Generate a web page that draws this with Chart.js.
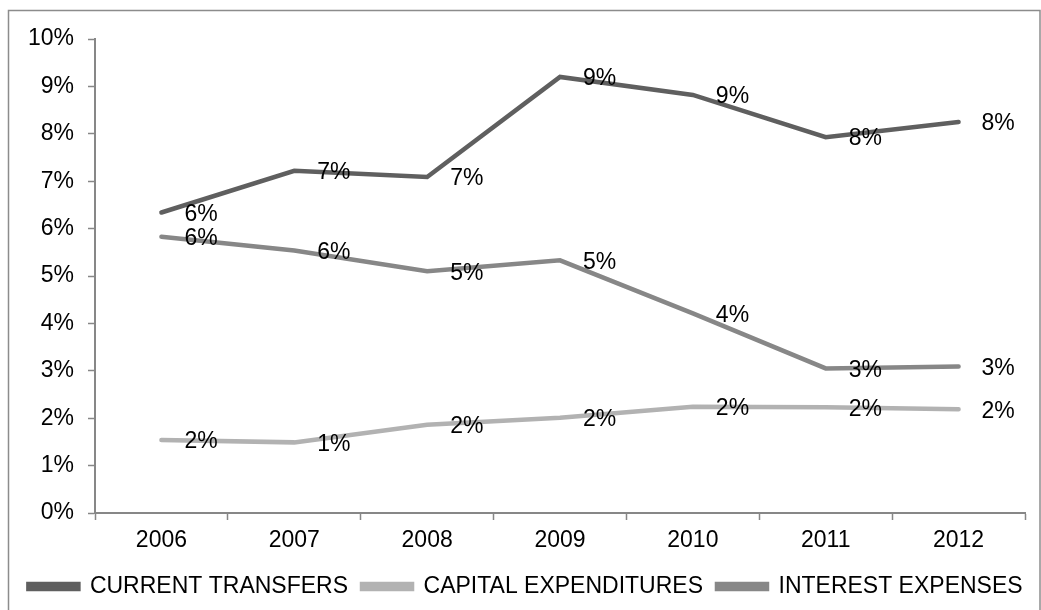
<!DOCTYPE html>
<html>
<head>
<meta charset="utf-8">
<script src="https://cdn.jsdelivr.net/npm/chart.js@4/dist/chart.umd.min.js"></script>
<style>
  html, body { margin: 0; padding: 0; background: #fff; }
  canvas { display: block; }
</style>
</head>
<body>
<canvas id="spendingChart" width="1041" height="610"></canvas>
<script>
// Share of spending by item, per year (percent)
const years = ['2006', '2007', '2008', '2009', '2010', '2011', '2012'];
const currentTransfers = [6.34, 7.22, 7.09, 9.20, 8.82, 7.93, 8.25];
const capitalExpenditures = [1.54, 1.49, 1.86, 2.01, 2.24, 2.23, 2.19];
const interestExpenses = [5.83, 5.54, 5.10, 5.33, 4.21, 3.05, 3.09];
const yTicks = [0, 1, 2, 3, 4, 5, 6, 7, 8, 9, 10];

const FONT = "'Liberation Sans', Arial, sans-serif";
const AXIS_GREY = '#878787';

// White background plus the thin frame around the chart
const framePlugin = {
    id: 'frame',
    beforeDraw(chart) {
        const ctx = chart.ctx;
        ctx.save();
        ctx.fillStyle = '#fff';
        ctx.fillRect(0, 0, chart.width, chart.height);
        ctx.strokeStyle = '#8c8c8c';
        ctx.lineWidth = 1.5;
        ctx.strokeRect(8.5, 10.5, chart.width - 9.5, chart.height + 20);
        ctx.restore();
    }
};

// Nudge the legend row a little to the right, under the plot
const legendShift = {
    id: 'legendShift',
    afterLayout(chart) {
        chart.legend.left += 13;
        chart.legend.right += 13;
    }
};

// Rounded percentage written just to the right of every point
const valueLabels = {
    id: 'valueLabels',
    afterDatasetsDraw(chart) {
        const ctx = chart.ctx;
        ctx.save();
        ctx.font = '23px ' + FONT;
        ctx.fillStyle = '#000';
        ctx.textAlign = 'left';
        ctx.textBaseline = 'middle';
        chart.data.datasets.forEach((ds, i) => {
            chart.getDatasetMeta(i).data.forEach((pt, j) => {
                ctx.fillText(Math.round(ds.data[j]) + '%', pt.x + 23, pt.y + 2);
            });
        });
        ctx.restore();
    }
};

function lineDataset(label, data, color) {
    return {
        label: label,
        data: data,
        borderColor: color,
        backgroundColor: color,
        borderWidth: 4.5,
        borderCapStyle: 'round',
        pointRadius: 0,
        pointHoverRadius: 0,
        tension: 0,
    };
}

const ctx = document.getElementById('spendingChart').getContext('2d');
new Chart(ctx, {
    type: 'line',
    data: {
        labels: years,
        datasets: [
            lineDataset('CURRENT TRANSFERS', currentTransfers, '#5f5f5f'),
            lineDataset('CAPITAL EXPENDITURES', capitalExpenditures, '#b2b2b2'),
            lineDataset('INTEREST EXPENSES', interestExpenses, '#878787'),
        ],
    },
    options: {
        responsive: false,
        animation: false,
        layout: { padding: { top: 39, right: 16, bottom: 2, left: 0 } },
        plugins: {
            tooltip: { enabled: false },
            legend: {
                position: 'bottom',
                labels: {
                    font: { family: FONT, size: 23 },
                    color: '#000',
                    boxWidth: 50,
                    boxHeight: 5,
                    padding: 14,
                },
            },
        },
        scales: {
            x: {
                offset: true,
                grid: {
                    offset: true,
                    drawOnChartArea: false,
                    tickLength: 7,
                    tickColor: AXIS_GREY,
                    tickWidth: 1.5,
                },
                border: { color: AXIS_GREY, width: 2 },
                ticks: {
                    font: { family: FONT, size: 23 },
                    color: '#000',
                    padding: 7,
                    maxRotation: 0,
                },
                afterFit(axis) { axis.height = 48; },
            },
            y: {
                min: 0,
                max: 10,
                afterBuildTicks(axis) { axis.ticks = yTicks.map(v => ({ value: v })); },
                grid: {
                    drawOnChartArea: false,
                    tickLength: 7,
                    tickColor: AXIS_GREY,
                    tickWidth: 1.5,
                },
                border: { color: AXIS_GREY, width: 2 },
                ticks: {
                    font: { family: FONT, size: 23 },
                    color: '#000',
                    padding: 14,
                    callback: v => v + '%',
                },
                afterFit(axis) { axis.width = 95; },
            },
        },
    },
    plugins: [framePlugin, legendShift, valueLabels],
});
</script>
</body>
</html>
